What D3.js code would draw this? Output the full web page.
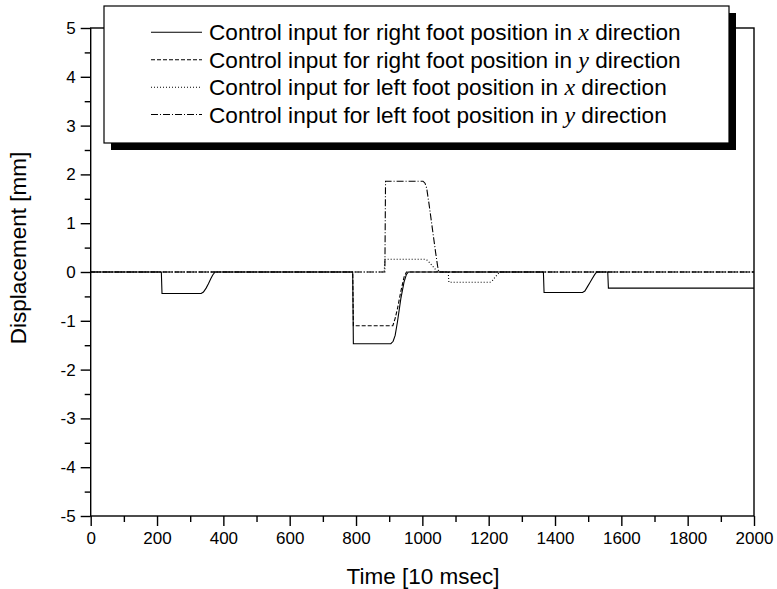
<!DOCTYPE html>
<html>
<head>
<meta charset="utf-8">
<script src="https://cdn.jsdelivr.net/npm/d3@7"></script>
<style>
  body { margin: 0; background: #fff; }
  svg { display: block; }
  text { font-family: "Liberation Sans", Arial, sans-serif; fill: #000; }
</style>
</head>
<body>
<svg id="chart" width="777" height="589"></svg>
<script>
// ---- data ----
const xTicks = [0, 200, 400, 600, 800, 1000, 1200, 1400, 1600, 1800, 2000];
const yTicks = [-5, -4, -3, -2, -1, 0, 1, 2, 3, 4, 5];

const rightXTime  = [0, 213, 215, 333, 340, 348, 355, 362, 368, 375, 790, 792, 905, 912, 918, 925, 935, 945, 952, 958, 1365, 1367, 1483, 1490, 1498, 1505, 1512, 1520, 1526, 1559, 1561, 2000];
const rightXValue = [0, 0, -0.44, -0.44, -0.41, -0.33, -0.24, -0.14, -0.06, 0, 0, -1.47, -1.47, -1.42, -1.3, -1.02, -0.55, -0.2, -0.05, 0, 0, -0.42, -0.42, -0.39, -0.3, -0.22, -0.14, -0.05, 0, 0, -0.33, -0.33];

const rightYTime  = [0, 790, 792, 911, 918, 925, 935, 945, 952, 2000];
const rightYValue = [0, 0, -1.10, -1.10, -0.95, -0.75, -0.4, -0.1, 0, 0];

const leftXTime  = [0, 885, 887, 1008, 1015, 1022, 1030, 1040, 1047, 1078, 1080, 1204, 1212, 1220, 1228, 1234, 2000];
const leftXValue = [0, 0, 0.26, 0.26, 0.24, 0.19, 0.13, 0.05, 0, 0, -0.21, -0.21, -0.17, -0.1, -0.04, 0, 0];

const leftYTime  = [0, 887, 889, 1002, 1008, 1013, 1020, 1030, 1040, 1046, 1050, 2000];
const leftYValue = [0, 0, 1.86, 1.86, 1.82, 1.72, 1.4, 0.9, 0.4, 0.12, 0, 0];

const seriesNames = [
  ["Control input for right foot position in ", "x", " direction"],
  ["Control input for right foot position in ", "y", " direction"],
  ["Control input for left foot position in ", "x", " direction"],
  ["Control input for left foot position in ", "y", " direction"]
];
const dashes = [null, "4,2", "1,2", "7,2,1,2"];

const series = [
  { t: rightXTime, v: rightXValue },
  { t: rightYTime, v: rightYValue },
  { t: leftXTime,  v: leftXValue },
  { t: leftYTime,  v: leftYValue }
];

// ---- layout ----
const svg = d3.select("#chart");
const L = 90.7, R = 754, T = 28, B = 516;
const x = d3.scaleLinear().domain([0, 2000]).range([L, R]);
const y = d3.scaleLinear().domain([-5, 5]).range([B, T]);
const fmt = d => String(d); // plain hyphen minus

// lines
const line = d3.line().x(d => x(d[0])).y(d => y(d[1]));
[3, 2, 1, 0].forEach(i => {
  const s = series[i];
  const pts = s.t.map((t, k) => [t, s.v[k]]);
  svg.append("path")
    .attr("d", line(pts))
    .attr("fill", "none")
    .attr("stroke", "#000")
    .attr("stroke-width", 1.1)
    .attr("stroke-dasharray", dashes[i]);
});

// frame
svg.append("rect")
  .attr("x", L).attr("y", T).attr("width", R - L).attr("height", B - T)
  .attr("fill", "none").attr("stroke", "#000").attr("stroke-width", 1.4);

// x axis
const xAxis = d3.axisBottom(x).tickValues(xTicks).tickSize(10).tickPadding(6).tickFormat(fmt);
const gx = svg.append("g").attr("transform", `translate(0,${B})`).call(xAxis);
gx.select(".domain").remove();
gx.selectAll("line").attr("stroke-width", 1.4);
gx.selectAll("text").attr("font-size", 17).attr("font-family", "Liberation Sans, Arial, sans-serif");
const xMinor = d3.axisBottom(x).tickValues(d3.range(100, 2000, 200)).tickSize(6).tickFormat("");
const gxm = svg.append("g").attr("transform", `translate(0,${B})`).call(xMinor);
gxm.select(".domain").remove();
gxm.selectAll("line").attr("stroke-width", 1.4);

// y axis
const yAxis = d3.axisLeft(y).tickValues(yTicks).tickSize(10).tickPadding(5).tickFormat(fmt);
const gy = svg.append("g").attr("transform", `translate(${L},0)`).call(yAxis);
gy.select(".domain").remove();
gy.selectAll("line").attr("stroke-width", 1.4);
gy.selectAll("text").attr("font-size", 17).attr("font-family", "Liberation Sans, Arial, sans-serif");
const yMinor = d3.axisLeft(y).tickValues(d3.range(-4.5, 5, 1)).tickSize(6).tickFormat("");
const gym = svg.append("g").attr("transform", `translate(${L},0)`).call(yMinor);
gym.select(".domain").remove();
gym.selectAll("line").attr("stroke-width", 1.4);

// axis titles
svg.append("text")
  .attr("x", 423).attr("y", 584)
  .attr("text-anchor", "middle").attr("font-size", 22.5)
  .text("Time [10 msec]");
svg.append("text")
  .attr("transform", `translate(26,${(T + B) / 2 - 24}) rotate(-90)`)
  .attr("text-anchor", "middle").attr("font-size", 22.5)
  .text("Displacement [mm]");

// legend
const lgX = 104, lgY = 6, lgW = 625, lgH = 137, sh = 7;
svg.append("rect").attr("x", lgX + sh).attr("y", lgY + sh).attr("width", lgW).attr("height", lgH).attr("fill", "#000");
svg.append("rect").attr("x", lgX).attr("y", lgY).attr("width", lgW).attr("height", lgH)
  .attr("fill", "#fff").attr("stroke", "#000").attr("stroke-width", 1.2);

const rowY = [32.3, 59.8, 87.2, 114.5];
seriesNames.forEach((nm, i) => {
  svg.append("line")
    .attr("x1", 151).attr("x2", 202).attr("y1", rowY[i]).attr("y2", rowY[i])
    .attr("stroke", "#000").attr("stroke-width", 1.1)
    .attr("stroke-dasharray", dashes[i]);
  const t = svg.append("text").attr("x", 209).attr("y", rowY[i] + 8).attr("font-size", 22.6);
  t.append("tspan").text(nm[0]);
  t.append("tspan").attr("font-family", "Liberation Serif, Times New Roman, serif")
    .attr("font-style", "italic").attr("font-size", 24).text(nm[1]);
  t.append("tspan").text(nm[2]);
});
</script>
</body>
</html>
